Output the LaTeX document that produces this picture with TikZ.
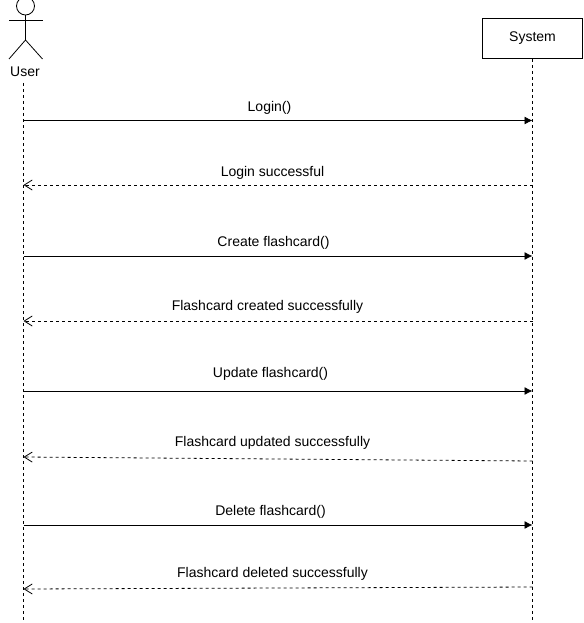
\documentclass[tikz,border=0pt]{standalone}
\usepackage{fontspec}
\setmainfont{Liberation Sans}
\usetikzlibrary{arrows.meta}
\tikzset{
  lifeline/.style={line width=0.8pt,dash pattern=on 3pt off 3pt},
  callmsg/.style={line width=0.8pt,-{Latex[length=8pt,width=8pt]}},
  replymsg/.style={line width=0.8pt,dash pattern=on 3pt off 3pt,-{Straight Barb[length=8pt,width=10pt]}},
  lbl/.style={font=\fontsize{14}{16}\selectfont,inner sep=0pt,text=black},
  actorline/.style={line width=0.8pt},
  boxnode/.style={draw,line width=0.8pt,minimum width=100pt,minimum height=40pt,inner sep=0pt,font=\fontsize{14}{16}\selectfont}
}
\begin{document}
\begin{tikzpicture}[x=1pt,y=-1pt]
\useasboundingbox (0,0) rectangle (583,623);
% actor
\node[draw,circle,line width=0.8pt,minimum size=18pt,inner sep=0pt] (head) at (25.5,6) {};
\coordinate (armL) at (9,20);
\coordinate (armR) at (42.5,20);
\coordinate (hip) at (25.5,40);
\coordinate (legL) at (9,59);
\coordinate (legR) at (42.5,59);
\draw[actorline] (head.south) -- (hip);
\draw[actorline] (armL) -- (armR);
\draw[actorline] (legL) -- (hip) -- (legR);
\node[lbl] (user) at (25,71.5) {User};
% system
\node[boxnode] (system) at (532.5,38.5) {\raisebox{-0.5pt}{System}};
% lifelines
\coordinate (uTop) at (23.5,83);
\coordinate (uEnd) at (23.5,621);
\coordinate (sEnd) at (532.5,621);
\draw[lifeline] (uTop) -- (uEnd);
\draw[lifeline] (system.south) -- (sEnd);
% endpoints
\foreach \n/\yu/\ys in {a/120.5/120.5,b/185/185,c/256/256,d/321/321,e/391/391,f/457/461,g/525/525,h/589/587}{
  \coordinate (u\n) at (23.5,\yu);
  \coordinate (s\n) at (532.5,\ys);
}
\draw[callmsg] (ua) -- (sa);
\draw[replymsg] (sb) -- (ub);
\draw[callmsg] (uc) -- (sc);
\draw[replymsg] (sd) -- (ud);
\draw[callmsg] (ue) -- (se);
\draw[replymsg] (sf) -- (uf);
\draw[callmsg] (ug) -- (sg);
\draw[replymsg] (sh) -- (uh);
% labels
\node[lbl] (la) at (269.5,107.5) {Login()};
\node[lbl] (lb) at (272.5,172.5) {Login successful};
\node[lbl] (lc) at (273.5,242.5) {Create flashcard()};
\node[lbl] (ld) at (267.5,306.5) {Flashcard created successfully};
\node[lbl] (le) at (270.5,373.5) {Update flashcard()};
\node[lbl] (lf) at (272.5,442.5) {Flashcard updated successfully};
\node[lbl] (lg) at (270.5,511.5) {Delete flashcard()};
\node[lbl] (lh) at (272.5,573.5) {Flashcard deleted successfully};
\end{tikzpicture}
\end{document}
